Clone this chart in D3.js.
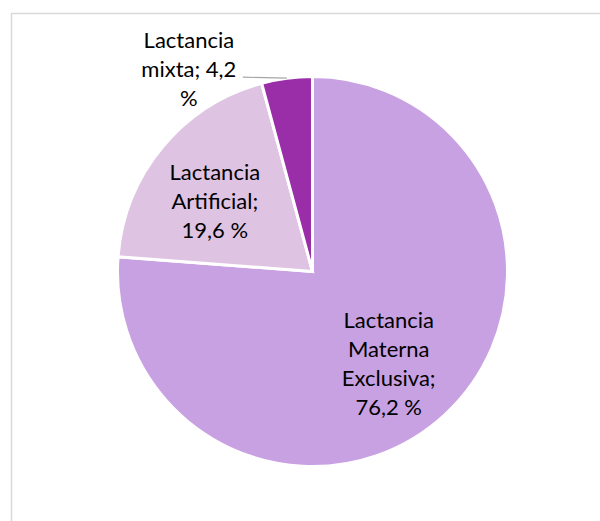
<!DOCTYPE html>
<html>
<head>
<meta charset="utf-8">
<script src="https://cdn.jsdelivr.net/npm/d3@7"></script>
<style>
  html, body { margin: 0; padding: 0; background: #fff; }
  svg { display: block; }
  text { font-family: Lato, "Open Sans", sans-serif; font-size: 22px; fill: #000; }
</style>
</head>
<body>
<svg id="chart" width="600" height="521"></svg>
<script>
// Tipo de lactancia (%)
const categories = ["Lactancia Materna Exclusiva", "Lactancia Artificial", "Lactancia mixta"];
const values = [76.2, 19.6, 4.2];
const colors = ["#c8a1e3", "#dfc3e3", "#9a2ea9"];
// where each label sits: inside the slice (at a fraction of the radius), or outside with a leader line
const labelPlacement = ["inside", "inside", "outside"];
const labelRadius = [0.575, 0.65, 1];

const width = 600, height = 521;
const cx = 312.5, cy = 271.5, radius = 195;
const lineHeight = 29;
const wrapWidth = 100;

const svg = d3.select("#chart");

// chart area frame
svg.append("rect")
  .attr("x", 11.5).attr("y", 13.5)
  .attr("width", 700).attr("height", 600)
  .attr("fill", "#fff")
  .attr("stroke", "#d9d9d9")
  .attr("stroke-width", 1.5);

const data = categories.map((c, i) => ({
  name: c, value: values[i], color: colors[i],
  place: labelPlacement[i], lr: labelRadius[i]
}));

const pie = d3.pie().sort(null).value(d => d.value).startAngle(0).endAngle(2 * Math.PI);
const arcs = pie(data);

const arc = d3.arc().innerRadius(0).outerRadius(radius);

const g = svg.append("g").attr("transform", `translate(${cx},${cy})`);

g.selectAll("path.slice")
  .data(arcs)
  .join("path")
  .attr("class", "slice")
  .attr("d", arc)
  .attr("fill", d => d.data.color)
  .attr("stroke", "#fff")
  .attr("stroke-width", 3)
  .attr("stroke-linejoin", "miter");

const fmt = v => d3.format(".1f")(v).replace(".", ",");

// measure text for word wrapping
const probe = svg.append("text").attr("visibility", "hidden");
function measure(s) { probe.text(s); return probe.node().getComputedTextLength(); }
function wrap(str) {
  const words = str.split(" ");
  const lines = [];
  let cur = "";
  words.forEach(w => {
    const t = cur ? cur + " " + w : w;
    if (cur && measure(t) > wrapWidth) { lines.push(cur); cur = w; }
    else cur = t;
  });
  if (cur) lines.push(cur);
  return lines;
}

arcs.forEach(d => {
  const lines = wrap(`${d.data.name}; ${fmt(d.data.value)} %`);
  const r = radius * d.data.lr;
  const at = d3.arc().innerRadius(r).outerRadius(r);
  let x, yMid, off;
  if (d.data.place === "inside") {
    [x, yMid] = at.centroid(d);
    off = 18;
  } else {
    const [ex, ey] = at.centroid(d);
    const lx = ex - 44;
    g.append("line")
      .attr("x1", ex).attr("y1", ey)
      .attr("x2", lx).attr("y2", ey - 1)
      .attr("stroke", "#a6a6a6").attr("stroke-width", 1.2);
    x = lx - 54;
    yMid = ey - 1;
    off = 0;
  }
  const n = lines.length;
  const t = g.append("text").attr("text-anchor", "middle");
  lines.forEach((ln, i) => {
    t.append("tspan")
      .attr("x", x)
      .attr("y", yMid + (i - (n - 1) / 2) * lineHeight + off)
      .text(ln);
  });
});
probe.remove();
</script>
</body>
</html>
